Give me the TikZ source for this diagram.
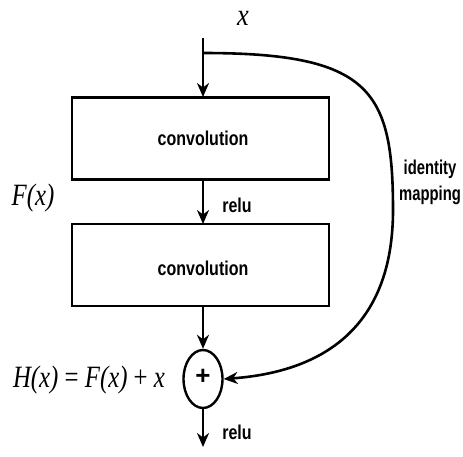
\documentclass[tikz,border=0pt]{standalone}
\usepackage{fontspec}
\setsansfont{Liberation Sans}
\newfontfamily\mathserif{Liberation Serif}
\usetikzlibrary{arrows.meta,shapes.geometric}
\begin{document}
\begin{tikzpicture}[x=1pt,y=-1pt,
  line width=2.6pt,
  arr/.style={-{Stealth[length=14pt,width=12pt]}},
  convbox/.style={draw, minimum width=257pt, minimum height=82pt, inner sep=0pt},
  lab/.style={font=\sffamily\bfseries\fontsize{20}{23}\selectfont, inner sep=0pt},
  mathlab/.style={font=\mathserif\itshape\fontsize{31}{34}\selectfont, inner sep=0pt}]
\useasboundingbox (0,0) rectangle (463,456);
\node[mathlab] (xin) at (243,18) {\scalebox{0.85}[1]{x}};
\coordinate (top) at (203,38);
\coordinate (split) at (203,53);
\node[convbox] (c1) at (200.5,138.5) {};
\node[lab] (t1) at (203,138) {\scalebox{0.8}[1]{convolution}};
\node[convbox] (c2) at (200.5,265) {};
\node[lab] (t2) at (203,268) {\scalebox{0.8}[1]{convolution}};
\node[draw, ellipse, minimum width=39pt, minimum height=58pt, inner sep=0pt, line width=2.4pt] (sum) at (203,379) {};
\node[font=\sffamily\bfseries\fontsize{26}{28}\selectfont, inner sep=0pt] (plus) at (203,377) {+};
\coordinate (out) at (203,447);
\node[lab] (r1) at (237,205) {\scalebox{0.8}[1]{relu}};
\node[lab] (r2) at (237,432) {\scalebox{0.8}[1]{relu}};
\node[mathlab] (fx) at (33,198) {\scalebox{0.8}[1]{F(x)}};
\node[mathlab] (hx) at (89,380) {\scalebox{0.8}[1]{H(x) \upshape=\itshape{} F(x) \upshape+\itshape{} x}};
\node[lab, align=center] (id) at (430,182) {\scalebox{0.74}[1]{identity}\\[3pt]\scalebox{0.74}[1]{mapping}};
\coordinate (mid) at (393,210);
\draw[arr] (top) -- (203,97);
\draw[arr] (203,180) -- (203,224);
\draw[arr] (203,306) -- (sum.north);
\draw[arr] (sum.south) -- (out);
\draw (split) .. controls (370,53) and (393,90) .. (mid);
\draw[arr] (mid) .. controls (393,330) and (320,372) .. (sum.east);
\end{tikzpicture}
\end{document}
